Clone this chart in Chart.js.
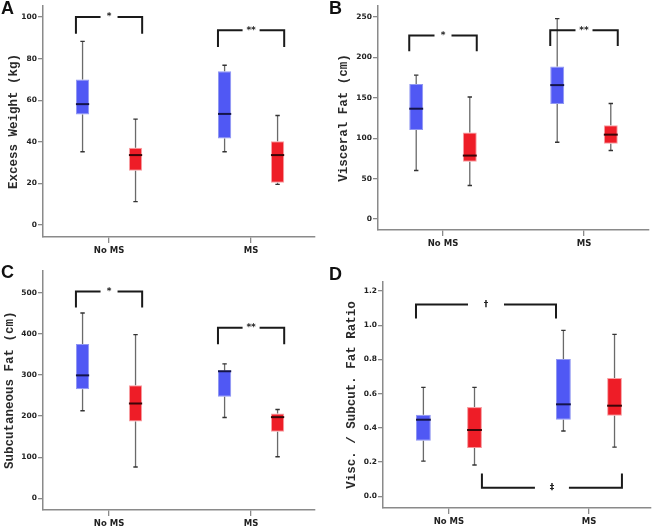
<!DOCTYPE html>
<html>
<head>
<meta charset="utf-8">
<script src="https://cdn.jsdelivr.net/npm/chart.js@4.4.1/dist/chart.umd.min.js"></script>
<style>
    body { margin: 0; background: #fff; }
    #wrap { position: relative; width: 653px; height: 529px; overflow: hidden; }
    .panel { position: absolute; }
    .letter { position: absolute; font: bold 18px "Liberation Sans", Arial, sans-serif; color: #111; }
</style>
</head>
<body>
<div id="wrap">
    <div class="panel" style="left:0;top:0;width:326px;height:262px"><canvas id="chartA"></canvas></div>
    <div class="panel" style="left:326px;top:0;width:327px;height:262px"><canvas id="chartB"></canvas></div>
    <div class="panel" style="left:0;top:265px;width:326px;height:264px"><canvas id="chartC"></canvas></div>
    <div class="panel" style="left:326px;top:265px;width:327px;height:264px"><canvas id="chartD"></canvas></div>
    <div class="letter" style="left:1px;top:-2px">A</div>
    <div class="letter" style="left:329px;top:-2px">B</div>
    <div class="letter" style="left:1px;top:262px">C</div>
    <div class="letter" style="left:329px;top:264px">D</div>
</div>
<script>
// groups on the x axis
const categories = ['No MS', 'MS'];

// box plot values per panel: [No MS, MS] for each statistic
// A - Excess Weight (kg)
const aBlueMin = [35.2, 35.2], aBlueQ1 = [53.1, 41.6], aBlueMed = [58.1, 53.4], aBlueQ3 = [69.9, 73.9], aBlueMax = [88.3, 76.8];
const aRedMin = [11.2, 19.5], aRedQ1 = [26.1, 20.3], aRedMed = [33.6, 33.6], aRedQ3 = [37.1, 40.3], aRedMax = [50.9, 52.6];
const aTicks = [0, 20, 40, 60, 80, 100];

// B - Visceral Fat (cm)
const bBlueMin = [60, 95], bBlueQ1 = [110, 142.3], bBlueMed = [136.5, 165.7], bBlueQ3 = [167, 188.7], bBlueMax = [178, 248];
const bRedMin = [41.5, 84.7], bRedQ1 = [70.8, 93], bRedMed = [78.5, 104.4], bRedQ3 = [107, 116], bRedMax = [151, 143];
const bTicks = [0, 50, 100, 150, 200, 250];

// C - Subcutaneous Fat (cm)
const cBlueMin = [213, 196.6], cBlueQ1 = [265, 247], cBlueMed = [299, 309], cBlueQ3 = [375, 311], cBlueMax = [450.6, 327];
const cRedMin = [76, 101], cRedQ1 = [187, 162], cRedMed = [230.6, 197.4], cRedQ3 = [275, 206], cRedMax = [398, 216];
const cTicks = [0, 100, 200, 300, 400, 500];

// D - Visc. / Subcut. Fat Ratio
const dBlueMin = [0.206, 0.382], dBlueQ1 = [0.325, 0.448], dBlueMed = [0.448, 0.538], dBlueQ3 = [0.477, 0.803], dBlueMax = [0.637, 0.970];
const dRedMin = [0.183, 0.288], dRedQ1 = [0.282, 0.471], dRedMed = [0.388, 0.530], dRedQ3 = [0.522, 0.692], dRedMax = [0.637, 0.947];
const dTicks = [0, 0.2, 0.4, 0.6, 0.8, 1.0, 1.2];

// significance brackets: bar height, end height, label
const aSigTop = [100, 93.6], aSigEnd = [92, 85.6], aSigLabel = ['*', '**'];
const bSigTop = [227, 233.5], bSigEnd = [207.6, 214], bSigLabel = ['*', '**'];
const cSigTop = [503, 415], cSigEnd = [464, 374.6], cSigLabel = ['*', '**'];
const dSigTop = [1.122, 0.05], dSigEnd = [1.04, 0.134], dSigLabel = ['\u2020', '\u2021'];

const BLUE = '#5058f4', BLUE_EDGE = '#9097f2';
const RED = '#ee1d27', RED_EDGE = '#f7a0a4';
const AXIS = '#8a8a8a';
const monoBold = { family: '"Liberation Mono", "Courier New", monospace', weight: 'bold' };
const sansBold = { family: '"DejaVu Sans", Verdana, sans-serif', weight: 'bold' };

function boxData(lo, hi) {
    return lo.map((v, i) => ({ x: i, y: [v, hi[i]] }));
}

// whiskers, medians and brackets drawn through the chart scales
const boxExtras = {
    id: 'boxExtras',
    afterDatasetsDraw(chart, args, opts) {
        const ctx = chart.ctx;
        const y = chart.scales.y;
        ctx.save();
        chart.data.datasets.forEach((ds, di) => {
            const meta = chart.getDatasetMeta(di);
            meta.data.forEach((bar, i) => {
                const x = bar.x, w = bar.width;
                const st = ds.stats;
                // whiskers
                ctx.strokeStyle = '#6a6a6a';
                ctx.lineWidth = 1.3;
                ctx.beginPath();
                ctx.moveTo(x, y.getPixelForValue(st.q3[i]));
                ctx.lineTo(x, y.getPixelForValue(st.max[i]));
                ctx.moveTo(x, y.getPixelForValue(st.q1[i]));
                ctx.lineTo(x, y.getPixelForValue(st.min[i]));
                ctx.stroke();
                ctx.strokeStyle = '#333';
                ctx.lineWidth = 1.4;
                ctx.beginPath();
                [st.max[i], st.min[i]].forEach(v => {
                    const py = y.getPixelForValue(v);
                    ctx.moveTo(x - 2.2, py);
                    ctx.lineTo(x + 2.2, py);
                });
                ctx.stroke();
                // median
                ctx.strokeStyle = di === 0 ? '#14144a' : '#3a0508';
                ctx.lineWidth = 2;
                ctx.beginPath();
                const my = y.getPixelForValue(st.med[i]);
                ctx.moveTo(x - w / 2, my);
                ctx.lineTo(x + w / 2, my);
                ctx.stroke();
            });
        });

        // brackets
        const edge = (di, i, side) => {
            const bar = chart.getDatasetMeta(di).data[i];
            return bar.x + side * bar.width / 2;
        };
        opts.brackets.forEach(b => {
            const x1 = edge(b.from[0], b.from[1], b.from[2]);
            const x2 = edge(b.to[0], b.to[1], b.to[2]);
            const yt = y.getPixelForValue(b.top);
            const ye = y.getPixelForValue(b.end);
            const xm = (x1 + x2) / 2;
            ctx.strokeStyle = '#1a1a1a';
            ctx.lineWidth = 2;
            ctx.beginPath();
            ctx.moveTo(x1, ye);
            ctx.lineTo(x1, yt);
            ctx.lineTo(xm - b.gap / 2, yt);
            ctx.moveTo(xm + b.gap / 2, yt);
            ctx.lineTo(x2, yt);
            ctx.lineTo(x2, ye);
            ctx.stroke();
            ctx.fillStyle = '#222';
            ctx.font = 'bold 9px "DejaVu Sans", sans-serif';
            ctx.textAlign = 'center';
            ctx.textBaseline = 'middle';
            ctx.fillText(b.label, xm, yt);
        });
        ctx.restore();
    }
};

function makePanel(id, p) {
    const blueStats = { min: p.blue[0], q1: p.blue[1], med: p.blue[2], q3: p.blue[3], max: p.blue[4] };
    const redStats = { min: p.red[0], q1: p.red[1], med: p.red[2], q3: p.red[3], max: p.red[4] };
    const brackets = p.sigTop.map((top, k) => ({
        top: top,
        end: p.sigEnd[k],
        label: p.sigLabel[k],
        from: p.spans[k][0],
        to: p.spans[k][1],
        gap: p.gaps[k]
    }));
    new Chart(document.getElementById(id), {
        type: 'bar',
        data: {
            datasets: [{
                data: boxData(blueStats.q1, blueStats.q3),
                stats: blueStats,
                backgroundColor: BLUE,
                borderColor: BLUE_EDGE,
                borderWidth: 1,
                borderSkipped: false,
                barPercentage: p.barPct,
                categoryPercentage: p.catPct
            }, {
                data: boxData(redStats.q1, redStats.q3),
                stats: redStats,
                backgroundColor: RED,
                borderColor: RED_EDGE,
                borderWidth: 1,
                borderSkipped: false,
                barPercentage: p.barPct,
                categoryPercentage: p.catPct
            }]
        },
        options: {
            responsive: true,
            maintainAspectRatio: false,
            animation: false,
            events: [],
            layout: { padding: { top: p.padTop, right: p.padRight, left: 0, bottom: 0 } },
            plugins: {
                legend: { display: false },
                tooltip: { enabled: false },
                boxExtras: { brackets: brackets }
            },
            scales: {
                x: {
                    type: 'linear',
                    offset: false,
                    min: p.xMin,
                    max: p.xMax,
                    afterBuildTicks: s => { s.ticks = categories.map((c, i) => ({ value: i })); },
                    grid: { display: true, offset: false, drawOnChartArea: false, drawTicks: true, tickLength: 6, color: AXIS, lineWidth: 1.3 },
                    border: { display: true, color: AXIS, width: 1.5 },
                    ticks: {
                        color: '#222',
                        font: Object.assign({ size: 8.5 }, sansBold),
                        padding: 3,
                        callback: v => categories[v]
                    },
                    afterFit: s => { s.height = p.xHeight; }
                },
                y: {
                    min: p.yMin,
                    max: p.yMax,
                    afterBuildTicks: s => { s.ticks = p.ticks.map(v => ({ value: v })); },
                    grid: { display: true, drawOnChartArea: false, drawTicks: true, tickLength: 5, color: AXIS, lineWidth: 1.3 },
                    border: { display: true, color: AXIS, width: 1.5 },
                    ticks: {
                        color: '#222',
                        font: Object.assign({ size: 7.5 }, sansBold),
                        padding: 1,
                        callback: v => p.fmt ? v.toFixed(1) : v
                    },
                    title: {
                        display: true,
                        text: p.title,
                        color: '#2a2a2a',
                        font: Object.assign({ size: 12.5 }, monoBold),
                        padding: { top: p.titlePad, bottom: 0 }
                    },
                    afterFit: s => { s.width = p.yWidth; }
                }
            }
        },
        plugins: [boxExtras]
    });
}

makePanel('chartA', {
    blue: [aBlueMin, aBlueQ1, aBlueMed, aBlueQ3, aBlueMax],
    red: [aRedMin, aRedQ1, aRedMed, aRedQ3, aRedMax],
    ticks: aTicks, yMin: -5.8, yMax: 105.3, xMin: -0.465, xMax: 1.45,
    sigTop: aSigTop, sigEnd: aSigEnd, sigLabel: aSigLabel,
    spans: [[[0, 0, -1], [1, 0, 1]], [[0, 1, -1], [1, 1, 1]]], gaps: [17, 17],
    title: 'Excess Weight (kg)', titlePad: 6,
    yWidth: 43, xHeight: 25, padTop: 6, padRight: 11, barPct: 0.25, catPct: 0.746
});

makePanel('chartB', {
    blue: [bBlueMin, bBlueQ1, bBlueMed, bBlueQ3, bBlueMax],
    red: [bRedMin, bRedQ1, bRedMed, bRedQ3, bRedMax],
    ticks: bTicks, yMin: -13.6, yMax: 263.6, xMin: -0.461, xMax: 1.461,
    sigTop: bSigTop, sigEnd: bSigEnd, sigLabel: bSigLabel,
    spans: [[[0, 0, -1], [1, 0, 1]], [[0, 1, -1], [1, 1, 1]]], gaps: [17, 17],
    title: 'Visceral Fat (cm)', titlePad: 10,
    yWidth: 52, xHeight: 32, padTop: 6, padRight: 4, barPct: 0.26, catPct: 0.76
});

makePanel('chartC', {
    blue: [cBlueMin, cBlueQ1, cBlueMed, cBlueQ3, cBlueMax],
    red: [cRedMin, cRedQ1, cRedMed, cRedQ3, cRedMax],
    ticks: cTicks, yMin: -28.4, yMax: 554, xMin: -0.465, xMax: 1.45,
    sigTop: cSigTop, sigEnd: cSigEnd, sigLabel: cSigLabel,
    spans: [[[0, 0, -1], [1, 0, 1]], [[0, 1, -1], [1, 1, 1]]], gaps: [17, 17],
    title: 'Subcutaneous Fat (cm)', titlePad: 2,
    yWidth: 43, xHeight: 19, padTop: 5, padRight: 11, barPct: 0.25, catPct: 0.746
});

makePanel('chartD', {
    blue: [dBlueMin, dBlueQ1, dBlueMed, dBlueQ3, dBlueMax],
    red: [dRedMin, dRedQ1, dRedMed, dRedQ3, dRedMax],
    ticks: dTicks, yMin: -0.068, yMax: 1.253, xMin: -0.471, xMax: 1.443, fmt: true,
    sigTop: dSigTop, sigEnd: dSigEnd, sigLabel: dSigLabel,
    spans: [[[0, 0, -1], [0, 1, -1]], [[1, 0, 1], [1, 1, 1]]], gaps: [36, 34],
    title: 'Visc. / Subcut. Fat Ratio', titlePad: 18,
    yWidth: 57, xHeight: 21, padTop: 17, padRight: 2, barPct: 0.29, catPct: 0.73
});
</script>
</body>
</html>
